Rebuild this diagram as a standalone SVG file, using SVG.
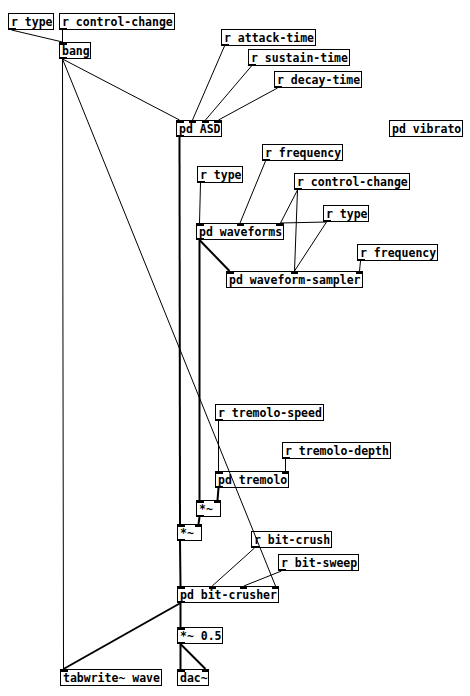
<svg xmlns="http://www.w3.org/2000/svg" width="470" height="696" viewBox="0 0 470 696">
<style>
.box{fill:none;stroke:#000;stroke-width:1}
.t{font-family:"DejaVu Sans Mono","Liberation Mono",monospace;font-weight:bold;font-size:11.5px;fill:#000}
.c{stroke:#000;stroke-width:1;fill:none}
.s{stroke:#000;stroke-width:2;fill:none}
.io{fill:#000}
</style>
<rect x="0" y="0" width="470" height="696" fill="#fff"/>
<g id="connectors">
<line class="c" x1="11.5" y1="30" x2="62.5" y2="42"/>
<line class="c" x1="62.5" y1="30" x2="62.5" y2="42"/>
<line class="c" x1="62.5" y1="59" x2="179.5" y2="120"/>
<line class="c" x1="62.5" y1="59" x2="63.5" y2="669"/>
<line class="c" x1="62.5" y1="59" x2="275.5" y2="586"/>
<line class="c" x1="224.5" y1="46" x2="192.5" y2="120"/>
<line class="c" x1="251.5" y1="66" x2="205.5" y2="120"/>
<line class="c" x1="277.5" y1="88" x2="218.5" y2="120"/>
<line class="c" x1="200.5" y1="183" x2="199.5" y2="223"/>
<line class="c" x1="265.5" y1="161" x2="240" y2="223"/>
<line class="c" x1="297.5" y1="190" x2="280.5" y2="223"/>
<line class="c" x1="326.5" y1="222" x2="280.5" y2="223"/>
<line class="c" x1="297.5" y1="190" x2="294.5" y2="271"/>
<line class="c" x1="326.5" y1="222" x2="294.5" y2="271"/>
<line class="c" x1="360.5" y1="261" x2="359.5" y2="271"/>
<line class="c" x1="218.5" y1="421" x2="218.5" y2="471"/>
<line class="c" x1="285.5" y1="459" x2="285.5" y2="471"/>
<line class="c" x1="254.5" y1="548" x2="212.2" y2="586"/>
<line class="c" x1="281.5" y1="571" x2="243.8" y2="586"/>
<line class="s" x1="179.5" y1="137" x2="180" y2="524"/>
<line class="s" x1="199.5" y1="240" x2="229.5" y2="271"/>
<line class="s" x1="199.5" y1="240" x2="199.5" y2="500"/>
<line class="s" x1="218.5" y1="488" x2="217.5" y2="500"/>
<line class="s" x1="199.5" y1="517" x2="198.5" y2="524"/>
<line class="s" x1="180" y1="541" x2="180.5" y2="586"/>
<line class="s" x1="180.5" y1="603" x2="180.5" y2="627"/>
<line class="s" x1="180.5" y1="603" x2="63.5" y2="669"/>
<line class="s" x1="180.5" y1="644" x2="180.5" y2="669"/>
<line class="s" x1="180.5" y1="644" x2="205.5" y2="669"/>
</g>
<g id="r_type_1"><rect class="box" x="8.5" y="13.5" width="45" height="16"/><text class="t" x="11" y="26">r type</text><rect class="io" x="9" y="28" width="7" height="2"/></g>
<g id="r_control_change_1"><rect class="box" x="59.5" y="13.5" width="115" height="16"/><text class="t" x="62" y="26">r control-change</text><rect class="io" x="60" y="28" width="7" height="2"/></g>
<g id="bang"><rect class="box" x="59.5" y="42.5" width="31" height="16"/><text class="t" x="62" y="55">bang</text><rect class="io" x="60" y="43" width="7" height="2"/><rect class="io" x="60" y="57" width="7" height="2"/></g>
<g id="r_attack_time"><rect class="box" x="221.5" y="29.5" width="94" height="16"/><text class="t" x="224" y="42">r attack-time</text><rect class="io" x="222" y="44" width="7" height="2"/></g>
<g id="r_sustain_time"><rect class="box" x="248.5" y="49.5" width="101" height="16"/><text class="t" x="251" y="62">r sustain-time</text><rect class="io" x="249" y="64" width="7" height="2"/></g>
<g id="r_decay_time"><rect class="box" x="274.5" y="71.5" width="87" height="16"/><text class="t" x="277" y="84">r decay-time</text><rect class="io" x="275" y="86" width="7" height="2"/></g>
<g id="pd_ASD"><rect class="box" x="176.5" y="120.5" width="45" height="16"/><text class="t" x="179" y="133">pd ASD</text><rect class="io" x="177" y="121" width="7" height="2"/><rect class="io" x="189" y="121" width="7" height="2"/><rect class="io" x="202" y="121" width="7" height="2"/><rect class="io" x="214" y="121" width="7" height="2"/><rect class="io" x="177" y="135" width="7" height="2"/></g>
<g id="pd_vibrato"><rect class="box" x="389.5" y="120.5" width="73" height="16"/><text class="t" x="392" y="133">pd vibrato</text></g>
<g id="r_frequency_1"><rect class="box" x="262.5" y="144.5" width="80" height="16"/><text class="t" x="265" y="157">r frequency</text><rect class="io" x="263" y="159" width="7" height="2"/></g>
<g id="r_type_2"><rect class="box" x="197.5" y="166.5" width="45" height="16"/><text class="t" x="200" y="179">r type</text><rect class="io" x="198" y="181" width="7" height="2"/></g>
<g id="r_control_change_2"><rect class="box" x="294.5" y="173.5" width="115" height="16"/><text class="t" x="297" y="186">r control-change</text><rect class="io" x="295" y="188" width="7" height="2"/></g>
<g id="r_type_3"><rect class="box" x="323.5" y="205.5" width="45" height="16"/><text class="t" x="326" y="218">r type</text><rect class="io" x="324" y="220" width="7" height="2"/></g>
<g id="pd_waveforms"><rect class="box" x="196.5" y="223.5" width="87" height="16"/><text class="t" x="199" y="236">pd waveforms</text><rect class="io" x="197" y="224" width="7" height="2"/><rect class="io" x="237" y="224" width="7" height="2"/><rect class="io" x="276" y="224" width="7" height="2"/><rect class="io" x="197" y="238" width="7" height="2"/></g>
<g id="r_frequency_2"><rect class="box" x="357.5" y="244.5" width="80" height="16"/><text class="t" x="360" y="257">r frequency</text><rect class="io" x="358" y="259" width="7" height="2"/></g>
<g id="pd_waveform_sampler"><rect class="box" x="226.5" y="271.5" width="136" height="16"/><text class="t" x="229" y="284">pd waveform-sampler</text><rect class="io" x="227" y="272" width="7" height="2"/><rect class="io" x="291" y="272" width="7" height="2"/><rect class="io" x="356" y="272" width="7" height="2"/></g>
<g id="r_tremolo_speed"><rect class="box" x="215.5" y="404.5" width="108" height="16"/><text class="t" x="218" y="417">r tremolo-speed</text><rect class="io" x="216" y="419" width="7" height="2"/></g>
<g id="r_tremolo_depth"><rect class="box" x="282.5" y="442.5" width="108" height="16"/><text class="t" x="285" y="455">r tremolo-depth</text><rect class="io" x="283" y="457" width="7" height="2"/></g>
<g id="pd_tremolo"><rect class="box" x="215.5" y="471.5" width="73" height="16"/><text class="t" x="218" y="484">pd tremolo</text><rect class="io" x="216" y="472" width="7" height="2"/><rect class="io" x="282" y="472" width="7" height="2"/><rect class="io" x="216" y="486" width="7" height="2"/></g>
<g id="mul_1"><rect class="box" x="196.5" y="500.5" width="24" height="16"/><text class="t" x="199" y="513">*~</text><rect class="io" x="197" y="501" width="7" height="2"/><rect class="io" x="214" y="501" width="7" height="2"/><rect class="io" x="197" y="515" width="7" height="2"/></g>
<g id="mul_2"><rect class="box" x="177.5" y="524.5" width="24" height="16"/><text class="t" x="180" y="537">*~</text><rect class="io" x="178" y="525" width="7" height="2"/><rect class="io" x="195" y="525" width="7" height="2"/><rect class="io" x="178" y="539" width="7" height="2"/></g>
<g id="r_bit_crush"><rect class="box" x="251.5" y="531.5" width="80" height="16"/><text class="t" x="254" y="544">r bit-crush</text><rect class="io" x="252" y="546" width="7" height="2"/></g>
<g id="r_bit_sweep"><rect class="box" x="278.5" y="554.5" width="80" height="16"/><text class="t" x="281" y="567">r bit-sweep</text><rect class="io" x="279" y="569" width="7" height="2"/></g>
<g id="pd_bit_crusher"><rect class="box" x="177.5" y="586.5" width="101" height="16"/><text class="t" x="180" y="599">pd bit-crusher</text><rect class="io" x="178" y="587" width="7" height="2"/><rect class="io" x="209" y="587" width="7" height="2"/><rect class="io" x="240" y="587" width="7" height="2"/><rect class="io" x="272" y="587" width="7" height="2"/><rect class="io" x="178" y="601" width="7" height="2"/></g>
<g id="mul_half"><rect class="box" x="177.5" y="627.5" width="45" height="16"/><text class="t" x="180" y="640">*~ 0.5</text><rect class="io" x="178" y="628" width="7" height="2"/><rect class="io" x="178" y="642" width="7" height="2"/></g>
<g id="tabwrite_wave"><rect class="box" x="60.5" y="669.5" width="101" height="16"/><text class="t" x="63" y="682">tabwrite~ wave</text><rect class="io" x="61" y="670" width="7" height="2"/></g>
<g id="dac"><rect class="box" x="177.5" y="669.5" width="31" height="16"/><text class="t" x="180" y="682">dac~</text><rect class="io" x="178" y="670" width="7" height="2"/><rect class="io" x="202" y="670" width="7" height="2"/></g>
</svg>
